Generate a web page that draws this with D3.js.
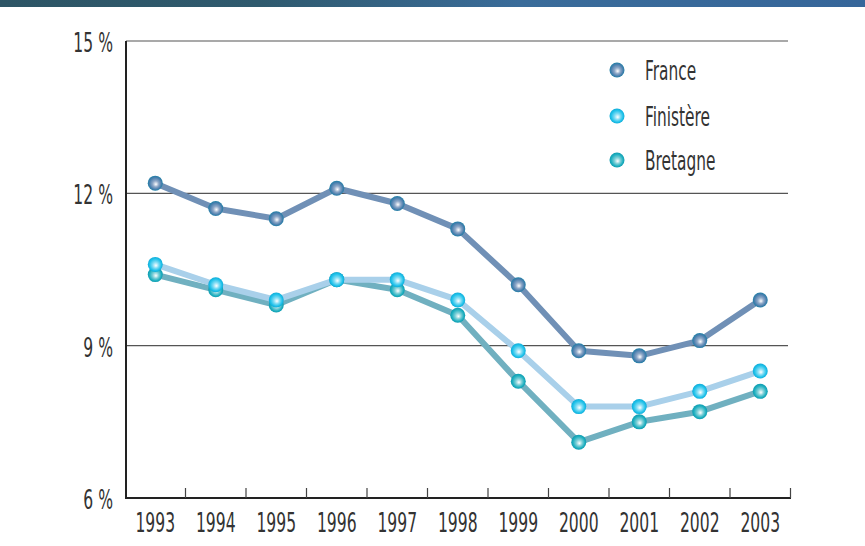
<!DOCTYPE html>
<html>
<head>
<meta charset="utf-8">
<script src="https://cdn.jsdelivr.net/npm/d3@7"></script>
<style>
  body { margin: 0; background: #fff; }
  svg text { font-family: "DejaVu Sans", sans-serif; fill: #333; }
</style>
</head>
<body>
<div id="chart"></div>
<script>
// data
const years = ["1993","1994","1995","1996","1997","1998","1999","2000","2001","2002","2003"];
const france    = [12.2, 11.7, 11.5, 12.1, 11.8, 11.3, 10.2, 8.9, 8.8, 9.1, 9.9];
const finistere = [10.6, 10.2, 9.9, 10.3, 10.3, 9.9, 8.9, 7.8, 7.8, 8.1, 8.5];
const bretagne  = [10.4, 10.1, 9.8, 10.3, 10.1, 9.6, 8.3, 7.1, 7.5, 7.7, 8.1];
const yTicks = [6, 9, 12, 15];

const W = 865, H = 546;
const svg = d3.select("#chart").append("svg")
  .attr("width", W).attr("height", H);

const defs = svg.append("defs");

// narrow text: squeeze horizontally around its anchor x
const squeeze = (cx, k) => `translate(${cx},0) scale(${k},1) translate(${-cx},0)`;

// top banner
const bg = defs.append("linearGradient").attr("id", "banner");
bg.append("stop").attr("offset", "0%").attr("stop-color", "#2d5565");
bg.append("stop").attr("offset", "30%").attr("stop-color", "#2f5a6e");
bg.append("stop").attr("offset", "60%").attr("stop-color", "#3a6c9a");
bg.append("stop").attr("offset", "100%").attr("stop-color", "#36669a");
svg.append("rect").attr("x", 0).attr("y", 0).attr("width", W).attr("height", 7)
  .attr("fill", "url(#banner)");

const series = [
  {name: "France",    values: france,    line: "#7090b6", mid: "#8fa8c8", dot: "#4a7fae", edge: "#1f7fa6"},
  {name: "Bretagne",  values: bretagne,  line: "#70b0c0", mid: "#7fd0d8", dot: "#20b0c0", edge: "#0e9cb0"},
  {name: "Finistère", values: finistere, line: "#a9d0ea", mid: "#80dcf4", dot: "#20c2ea", edge: "#10acd8"}
];

series.forEach((s, i) => {
  const g = defs.append("radialGradient").attr("id", "dot" + i)
    .attr("cx", "50%").attr("cy", "50%").attr("r", "50%")
    .attr("fx", "55%").attr("fy", "58%");
  g.append("stop").attr("offset", "0%").attr("stop-color", "#ffffff");
  g.append("stop").attr("offset", "40%").attr("stop-color", s.mid);
  g.append("stop").attr("offset", "78%").attr("stop-color", s.dot);
  g.append("stop").attr("offset", "100%").attr("stop-color", s.edge);
});

const x = d3.scaleBand().domain(years).range([125, 790.5]);
const y = d3.scaleLinear().domain([6, 15]).range([498, 41]);

// gridlines
svg.append("g").selectAll("line")
  .data(yTicks.filter(d => d > 6))
  .join("line")
    .attr("x1", 126).attr("x2", 788)
    .attr("y1", d => y(d)).attr("y2", d => y(d))
    .attr("stroke", "#555").attr("stroke-width", 1.2);

// y axis
svg.append("line").attr("x1", 126).attr("x2", 126)
  .attr("y1", y(15)).attr("y2", y(6))
  .attr("stroke", "#222").attr("stroke-width", 2);
svg.append("g").selectAll("text")
  .data(yTicks)
  .join("text")
    .attr("x", 113).attr("y", d => y(d) + 11)
    .attr("text-anchor", "end")
    .attr("font-size", 26)
    .attr("transform", squeeze(113, 0.6))
    .text(d => d + " %");

// x axis
svg.append("line").attr("x1", 125).attr("x2", 791)
  .attr("y1", y(6)).attr("y2", y(6))
  .attr("stroke", "#222").attr("stroke-width", 2);
svg.append("g").selectAll("line")
  .data(years.slice(1).concat(["end"]))
  .join("line")
    .attr("x1", (d, i) => i < years.length - 1 ? x(d) : x.range()[1])
    .attr("x2", (d, i) => i < years.length - 1 ? x(d) : x.range()[1])
    .attr("y1", y(6) - 10).attr("y2", y(6))
    .attr("stroke", "#444").attr("stroke-width", 1.2);
svg.append("g").selectAll("text")
  .data(years)
  .join("text")
    .attr("x", d => x(d) + x.bandwidth() / 2)
    .attr("y", 532)
    .attr("text-anchor", "middle")
    .attr("font-size", 26)
    .attr("transform", d => squeeze(x(d) + x.bandwidth() / 2, 0.6))
    .text(d => d);

// lines
const line = d3.line()
  .x((d, i) => x(years[i]) + x.bandwidth() / 2)
  .y(d => y(d));

series.forEach(s => {
  svg.append("path").datum(s.values)
    .attr("d", line)
    .attr("fill", "none")
    .attr("stroke", s.line)
    .attr("stroke-width", 6)
    .attr("stroke-linejoin", "round");
});

// markers
series.forEach((s, i) => {
  svg.append("g").selectAll("circle")
    .data(s.values)
    .join("circle")
      .attr("cx", (d, j) => x(years[j]) + x.bandwidth() / 2)
      .attr("cy", d => y(d))
      .attr("r", 7.5)
      .attr("fill", `url(#dot${i})`);
});

// legend
const legendOrder = [0, 2, 1];
const legendY = [70, 116, 160];
const lg = svg.append("g");
legendOrder.forEach((si, k) => {
  const s = series[si];
  const ly = legendY[k];
  lg.append("circle").attr("cx", 617).attr("cy", ly).attr("r", 7.5)
    .attr("fill", `url(#dot${si})`);
  lg.append("text").attr("x", 645).attr("y", ly + 10)
    .attr("font-size", 27)
    .attr("transform", squeeze(645, 0.57))
    .text(s.name);
});
</script>
</body>
</html>
